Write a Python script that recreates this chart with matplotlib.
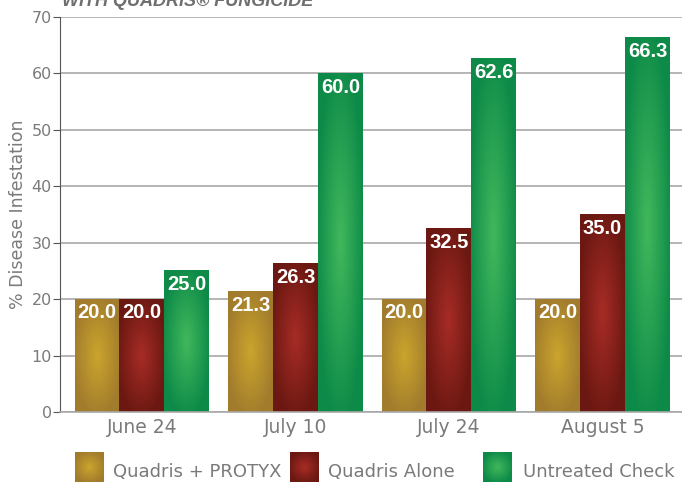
import numpy as np
import matplotlib
matplotlib.use("Agg")
import matplotlib.pyplot as plt
from matplotlib.colors import to_rgb

dates = ["June 24", "July 10", "July 24", "August 5"]
series = ["Quadris + PROTYX", "Quadris Alone", "Untreated Check"]
protyx = [20.0, 21.3, 20.0, 20.0]
quadris = [20.0, 26.3, 32.5, 35.0]
untreated = [25.0, 60.0, 62.6, 66.3]
values = [protyx, quadris, untreated]

# (centre colour, edge colour) for the radial shading
shades = [("#cba52c", "#a27c2c"), ("#a72c26", "#6c1812"), ("#42b85c", "#0d8a48")]

plt.rcParams['font.family'] = ['DejaVu Sans']
grey = "#7a7a7a"


def gradient(c_in, c_out, n=60):
    yy, xx = np.mgrid[-1:1:n * 1j, -1:1:n * 1j]
    r = np.clip(np.sqrt(xx ** 2 + yy ** 2) / 1.1, 0, 1)[..., None]
    a, b = np.array(to_rgb(c_in)), np.array(to_rgb(c_out))
    return a * (1 - r) + b * r


fig = plt.figure(figsize=(6.82, 4.82), dpi=100)
ax = fig.add_axes([60 / 682, 1 - 412 / 482, 622 / 682, 395 / 482])

x = np.arange(len(dates))
w = 0.293
for i, (vals, (ci, co)) in enumerate(zip(values, shades)):
    for xi, v in zip(x + (i - 1) * w, vals):
        ax.imshow(gradient(ci, co), extent=[xi - w / 2, xi + w / 2, 0, v],
                  aspect='auto', zorder=2, interpolation='bilinear')
        ax.annotate(f"{v:.1f}", (xi, v), xytext=(0, -3), textcoords='offset points',
                    ha='center', va='top', color='white', fontsize=14.5,
                    fontweight='bold', family=['Liberation Sans'], zorder=3)

ax.set_xlim(-0.534, 3.518)
ax.set_ylim(0, 70)
ax.set_yticks(range(0, 71, 10))
ax.set_xticks(x)
ax.set_xticklabels(dates, fontsize=13.5, color=grey)
ax.tick_params(axis='x', length=0, pad=4)
ax.tick_params(axis='y', labelsize=11.5, labelcolor=grey, color='#555555', length=5, pad=1)
ax.yaxis.grid(True, color='#a8a8a8', lw=1.2, zorder=0)
ax.set_axisbelow(True)
for s in ['top', 'right']:
    ax.spines[s].set_visible(False)
ax.spines['left'].set_color('#555555')
ax.spines['bottom'].set_color('#a8a8a8')
ax.spines['bottom'].set_linewidth(1.2)
ax.set_ylabel("% Disease Infestation", fontsize=12.5, color=grey, labelpad=3)

fig.text(62 / 682, 1 - 6 / 482, "WITH QUADRIS\u00ae FUNGICIDE", fontsize=13,
         fontweight='bold', style='italic', color='#6f6f6f', va='baseline',
         family=['Liberation Sans'])

# legend with shaded squares
leg_x = [75, 290, 483]
text_x = [113, 328, 523]
for lx, tx, name, (ci, co) in zip(leg_x, text_x, series, shades):
    lax = fig.add_axes([lx / 682, 0, 29 / 682, 30 / 482])
    lax.imshow(gradient(ci, co), aspect='auto', interpolation='bilinear')
    lax.axis('off')
    fig.text(tx / 682, 1 - 477 / 482, name, fontsize=13, color=grey,
             va='baseline')

fig.savefig("out.png", dpi=100)
